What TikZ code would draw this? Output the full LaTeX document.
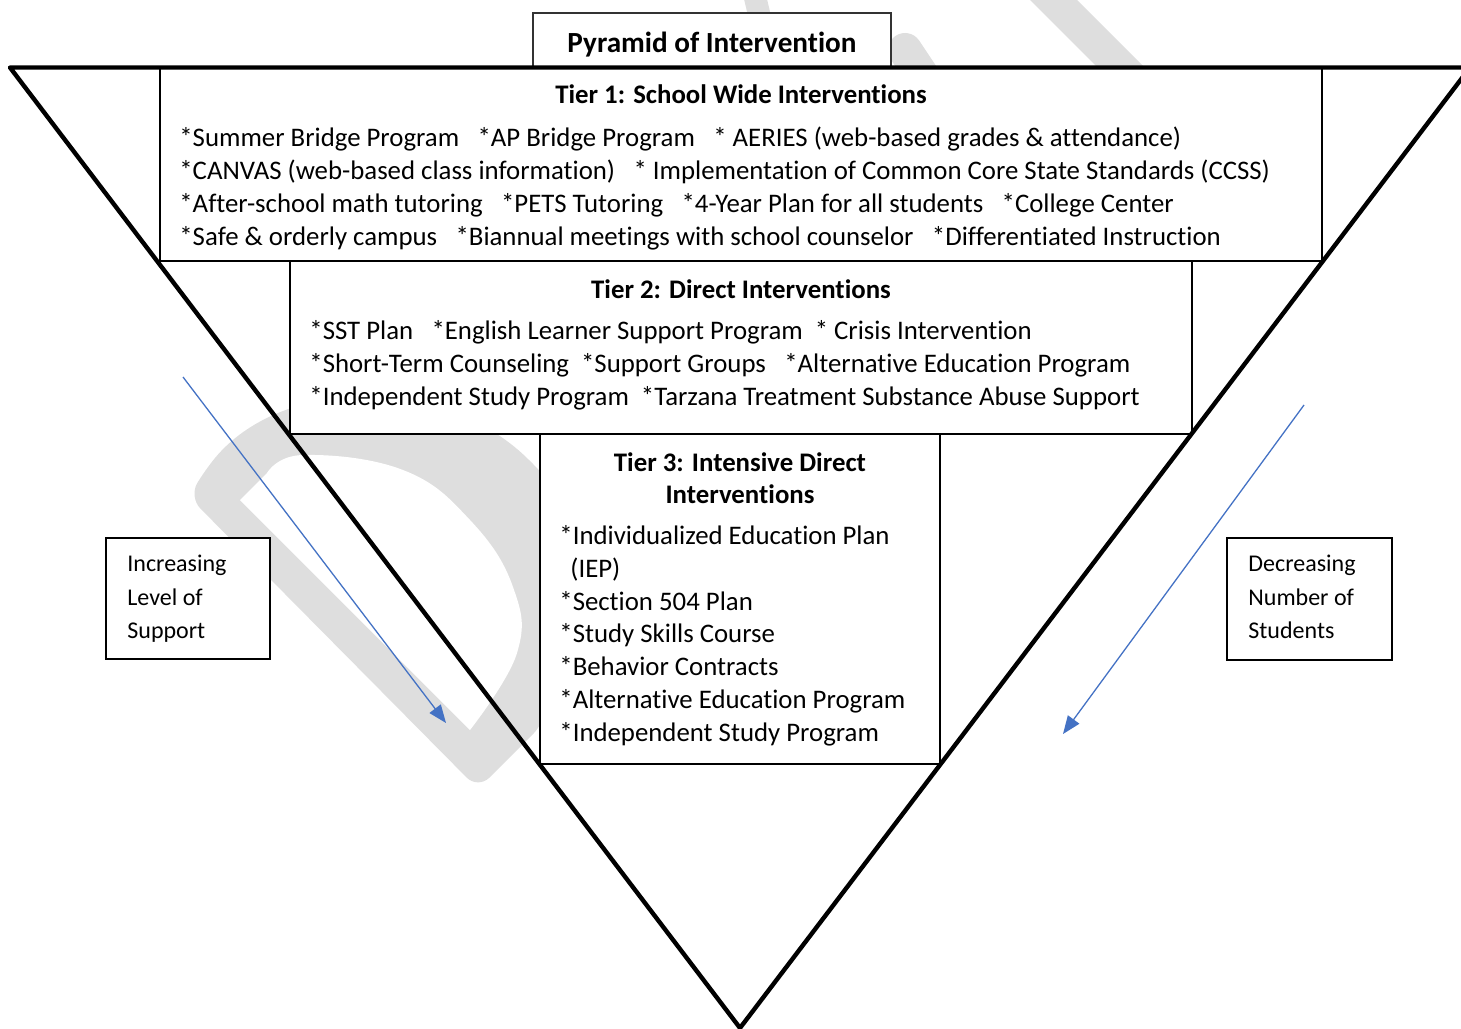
\documentclass[tikz,border=0pt]{standalone}
\usepackage{fontspec}
\setmainfont{Carlito}[Ligatures=NoCommon]
\usetikzlibrary{arrows.meta}
\definecolor{wordblue}{HTML}{4472C4}
\definecolor{wmgray}{HTML}{DEDEDE}
\tikzstyle{tierbox}=[rectangle, draw=black, line width=0.8pt, fill=white, inner sep=0pt]
\tikzstyle{sidebox}=[rectangle, draw=black, line width=0.9pt, fill=white, inner sep=0pt]
\tikzstyle{head}=[inner sep=0pt, anchor=base, align=center, font=\bfseries\fontsize{13.4}{16}\selectfont]
\tikzstyle{items}=[inner sep=0pt, anchor=base west, align=left, font=\fontsize{13.4}{16.35}\selectfont]
\tikzstyle{sidetext}=[inner sep=0pt, anchor=base west, align=left, font=\fontsize{12}{16.75}\selectfont]
\tikzstyle{support}=[-{Triangle[length=9pt, width=7pt]}, wordblue, line width=0.65pt]
\newcommand{\gap}{\hspace{9.2pt}}
\newcommand{\sgap}{\hspace{6pt}}

\begin{document}
\begin{tikzpicture}[x=0.5pt, y=-0.5pt]

\useasboundingbox (0,0) rectangle (1461,1028);
\clip (0,0) rectangle (1461,1028);

% watermark behind everything
\fill[wmgray, rounded corners=8pt] (545,722) -- (478,789) -- (189,497) -- (205,470)
  .. controls (280,380) and (430,375) .. (530,460)
  .. controls (600,540) and (600,660) .. (545,722) -- cycle;
\fill[white] (240,500) -- plot[smooth, tension=0.7] coordinates {(267,473) (303,455) (403,470) (470,520) (513,587) (517,653) (470,730)} -- cycle;
\fill[wmgray] (1030,0) -- (1077,0) -- (1160,83) -- (1113,83) -- cycle;
\fill[wmgray] (743,-5) -- (766,-5) -- (772,20) -- (749,20) -- cycle;
\draw[wmgray, line width=17pt, line cap=round] (905,50) -- (945,110);

% boxes
\node[tierbox, draw=black!80, line width=0.7pt, minimum width=179pt, minimum height=27pt] (titlebox) at (712,40) {};
\node[tierbox, minimum width=581pt, minimum height=97pt] (tierone) at (741,164) {};
\node[tierbox, minimum width=451pt, minimum height=86.5pt] (tiertwo) at (741,347.5) {};
\node[tierbox, minimum width=200pt, minimum height=165pt] (tierthree) at (740,599) {};
\node[sidebox, minimum width=82pt, minimum height=60.5pt] (incbox) at (188,598.5) {};
\node[sidebox, minimum width=82.5pt, minimum height=61pt] (decbox) at (1309.5,599) {};

% the pyramid
\coordinate (topleft) at (10,67.5);
\coordinate (topright) at (1470,67.5);
\coordinate (apex) at (740,1028);
\draw[line width=2.2pt, line join=round] (topleft) -- (topright) -- (apex) -- cycle;

% texts (base anchor of a multi-line node sits on its last line)
\node[inner sep=0pt, anchor=base, font=\bfseries\fontsize{14.6}{17}\selectfont] (title) at (712,52) {Pyramid of Intervention};

\node[head] (tieronehead) at (741,103) {Tier 1: School Wide Interventions};
\node[items] (tieroneitems) at (179,245) {*Summer Bridge Program\gap *AP Bridge Program\gap * AERIES (web-based grades \& attendance)\\
*CANVAS (web-based class information)\gap * Implementation of Common Core State Standards (CCSS)\\
*After-school math tutoring\gap *PETS Tutoring\gap *4-Year Plan for all students\gap *College Center\\
*Safe \& orderly campus\gap *Biannual meetings with school counselor\gap *Differentiated Instruction};

\node[head] (tiertwohead) at (741,298) {Tier 2: Direct Interventions};
\node[items] (tiertwoitems) at (309,405) {*SST Plan\gap *English Learner Support Program\sgap * Crisis Intervention\\
*Short-Term Counseling\sgap *Support Groups\gap *Alternative Education Program\\
*Independent Study Program\sgap *Tarzana Treatment Substance Abuse Support};

\node[head] (tierthreehead) at (740,503) {Tier 3: Intensive Direct\\ Interventions};
\node[items] (tierthreeitems) at (559,741) {*Individualized Education Plan\\
\hspace*{5.5pt}(IEP)\\
*Section 504 Plan\\
*Study Skills Course\\
*Behavior Contracts\\
*Alternative Education Program\\
*Independent Study Program};

\node[sidetext] (inctext) at (127,638.5) {Increasing\\ Level of\\ Support};
\node[sidetext] (dectext) at (1248,638.5) {Decreasing\\ Number of\\ Students};

% arrows
\coordinate (incstart) at (183,377);
\coordinate (incend) at (446,723);
\coordinate (decstart) at (1304,405);
\coordinate (decend) at (1063,734);
\draw[support] (incstart) -- (incend);
\draw[support] (decstart) -- (decend);

\end{tikzpicture}
\end{document}
